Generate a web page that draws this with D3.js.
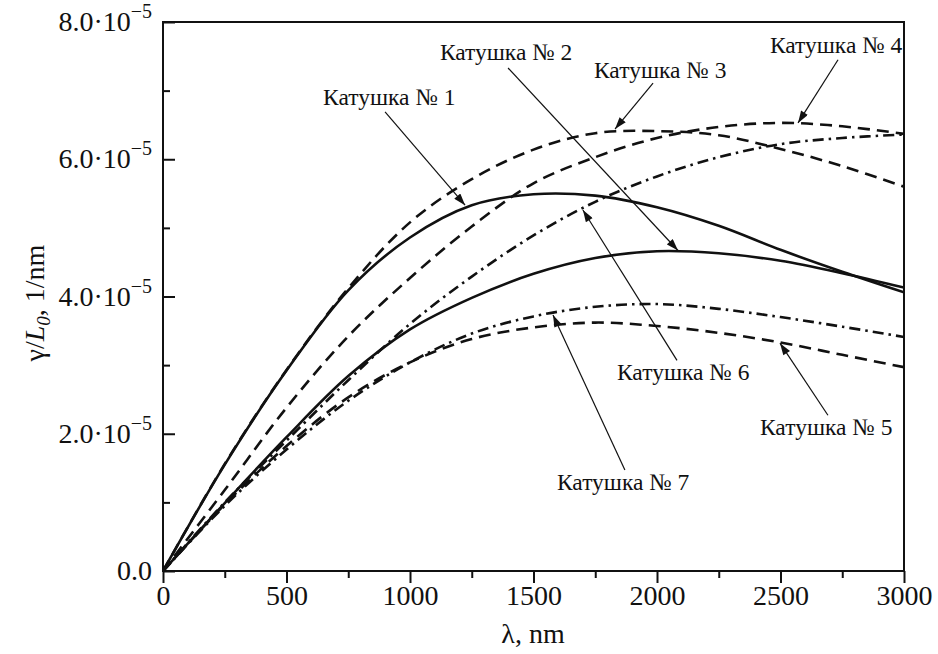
<!DOCTYPE html>
<html><head><meta charset="utf-8">
<script src="https://cdn.jsdelivr.net/npm/d3@7"></script>
<style>
html,body{margin:0;padding:0;background:#fff;}
text{font-family:"Liberation Serif","Times New Roman",serif;fill:#111;}
</style></head>
<body><svg id="c" width="938" height="654"></svg>
<script>
// ---- data (values in units of 1e-5 1/nm) ----
const UNIT = 1e-5;
const lambda = [0, 250, 500, 750, 1000, 1250, 1500, 1750, 2000, 2250, 2500, 2750, 3000];
const coil1 = [0, 1.55, 2.92, 4.09, 4.86, 5.33, 5.49, 5.47, 5.30, 5.03, 4.68, 4.36, 4.06];
const coil2 = [0, 0.99, 1.95, 2.84, 3.52, 3.98, 4.33, 4.56, 4.66, 4.63, 4.52, 4.34, 4.13];
const coil3 = [0, 1.56, 2.93, 4.12, 5.08, 5.71, 6.14, 6.38, 6.41, 6.35, 6.15, 5.90, 5.60];
const coil4 = [0, 1.18, 2.38, 3.42, 4.27, 5.02, 5.65, 6.03, 6.31, 6.47, 6.53, 6.48, 6.37];
const coil5 = [0, 0.97, 1.82, 2.53, 3.04, 3.38, 3.55, 3.62, 3.57, 3.47, 3.33, 3.15, 2.97];
const coil6 = [0, 1.00, 1.90, 2.78, 3.60, 4.29, 4.89, 5.38, 5.75, 6.03, 6.22, 6.31, 6.36];
const coil7 = [0, 0.95, 1.77, 2.48, 3.04, 3.46, 3.71, 3.85, 3.89, 3.82, 3.70, 3.56, 3.41];
const seriesNames = ["Катушка № 1","Катушка № 2","Катушка № 3","Катушка № 4","Катушка № 5","Катушка № 6","Катушка № 7"];
const seriesValues = [coil1, coil2, coil3, coil4, coil5, coil6, coil7];
const seriesStyle = ["solid","solid","dash","dash","dash","dashdot","dashdot"];
// annotation: label anchor, arrow start and arrow target (data coords)
const annotLabelX = [648, 1121, 1745, 2457, 2417, 1838, 1595];
const annotLabelY = [6.79, 7.45, 7.18, 7.55, 1.98, 2.78, 1.18];
const annotStartX = [899, 1397, 1984, 2733, 2692, 2081, 1870];
const annotStartY = [6.69, 7.33, 7.11, 7.45, 2.27, 3.07, 1.47];
const annotTargetX = [1223, 2085, 1830, 2571, 2498, 1700, 1579];
const annotTargetY = [5.33, 4.67, 6.44, 6.53, 3.32, 5.26, 3.73];
const xTicks = [0, 500, 1000, 1500, 2000, 2500, 3000];
const xMinor = [250, 750, 1250, 1750, 2250, 2750];
const yTicks = [0, 2, 4, 6, 8];
const yTickLabels = ["0.0", "2.0·10", "4.0·10", "6.0·10", "8.0·10"];
const yTickSup = ["", "−5", "−5", "−5", "−5"];
const yMinor = [1, 3, 5, 7];

// ---- layout ----
const L = 163, R = 904, T = 22, B = 571;
const svg = d3.select("#c");
const x = d3.scaleLinear().domain([0, 3000]).range([L, R]);
const y = d3.scaleLinear().domain([0, 8 * UNIT]).range([B, T]);

// frame
svg.append("rect").attr("x", L).attr("y", T).attr("width", R - L).attr("height", B - T)
  .attr("fill", "none").attr("stroke", "#111").attr("stroke-width", 2);

// x axis
const gx = svg.append("g").attr("transform", `translate(0,${B})`)
  .call(d3.axisBottom(x).tickValues(xTicks).tickSize(12).tickSizeOuter(0).tickPadding(14).tickFormat(d3.format("d")));
gx.select(".domain").remove();
gx.selectAll("line").attr("stroke", "#111").attr("stroke-width", 2);
gx.selectAll("text").attr("font-size", 28).attr("fill", "#111").attr("dy", "0.71em").attr("y", 14);
const gxm = svg.append("g").attr("transform", `translate(0,${B})`)
  .call(d3.axisBottom(x).tickValues(xMinor).tickSize(7).tickSizeOuter(0).tickFormat(""));
gxm.select(".domain").remove();
gxm.selectAll("line").attr("stroke", "#111").attr("stroke-width", 2);

// y axis (ticks inward)
const gy = svg.append("g").attr("transform", `translate(${L},0)`)
  .call(d3.axisLeft(y).tickValues(yTicks.map(v => v * UNIT)).tickSize(-12).tickSizeOuter(0).tickFormat(""));
gy.select(".domain").remove();
gy.selectAll("line").attr("stroke", "#111").attr("stroke-width", 2);
const gym = svg.append("g").attr("transform", `translate(${L},0)`)
  .call(d3.axisLeft(y).tickValues(yMinor.map(v => v * UNIT)).tickSize(-7).tickSizeOuter(0).tickFormat(""));
gym.select(".domain").remove();
gym.selectAll("line").attr("stroke", "#111").attr("stroke-width", 2);

yTicks.forEach((v, i) => {
  const t = svg.append("text").attr("x", 152).attr("y", y(v * UNIT) + 9)
    .attr("text-anchor", "end").attr("font-size", 28);
  t.append("tspan").text(yTickLabels[i]);
  if (yTickSup[i]) t.append("tspan").attr("font-size", 20).attr("dy", -13).text(yTickSup[i]);
});

// axis titles
svg.append("text").attr("x", 533).attr("y", 643).attr("text-anchor", "middle")
  .attr("font-size", 28).text("λ, nm");
const yt = svg.append("text").attr("transform", "translate(44,303) rotate(-90)")
  .attr("text-anchor", "middle").attr("font-size", 28);
yt.append("tspan").text("γ/");
yt.append("tspan").attr("font-style", "italic").text("L");
yt.append("tspan").attr("font-style", "italic").attr("font-size", 19).attr("dy", 6).text("0");
yt.append("tspan").attr("dy", -6).text(", 1/nm");

// curves
const line = d3.line().x(d => x(d[0])).y(d => y(d[1] * UNIT)).curve(d3.curveCatmullRom.alpha(0.5));
const dashes = { solid: null, dash: "12,7", dashdot: "11,5,2.5,5" };
svg.append("clipPath").attr("id", "clp").append("rect")
  .attr("x", L).attr("y", T).attr("width", R - L).attr("height", B - T);
seriesValues.forEach((vals, i) => {
  svg.append("path").datum(lambda.map((l, j) => [l, vals[j]]))
    .attr("clip-path", "url(#clp)")
    .attr("d", line).attr("fill", "none").attr("stroke", "#111").attr("stroke-width", 2.6)
    .attr("stroke-dasharray", dashes[seriesStyle[i]]);
});

// annotations
const defs = svg.append("defs");
defs.append("marker").attr("id", "arr").attr("viewBox", "0 0 12 8").attr("refX", 12).attr("refY", 4)
  .attr("markerWidth", 13).attr("markerHeight", 8).attr("markerUnits", "userSpaceOnUse").attr("orient", "auto")
  .append("path").attr("d", "M0,0 L12,4 L0,8 Z").attr("fill", "#111");
seriesNames.forEach((name, i) => {
  svg.append("line")
    .attr("x1", x(annotStartX[i])).attr("y1", y(annotStartY[i] * UNIT))
    .attr("x2", x(annotTargetX[i])).attr("y2", y(annotTargetY[i] * UNIT))
    .attr("stroke", "#111").attr("stroke-width", 1.2).attr("marker-end", "url(#arr)");
  svg.append("text").attr("x", x(annotLabelX[i])).attr("y", y(annotLabelY[i] * UNIT))
    .attr("text-anchor", "start").attr("font-size", 23.5).text(name);
});
</script></body></html>
